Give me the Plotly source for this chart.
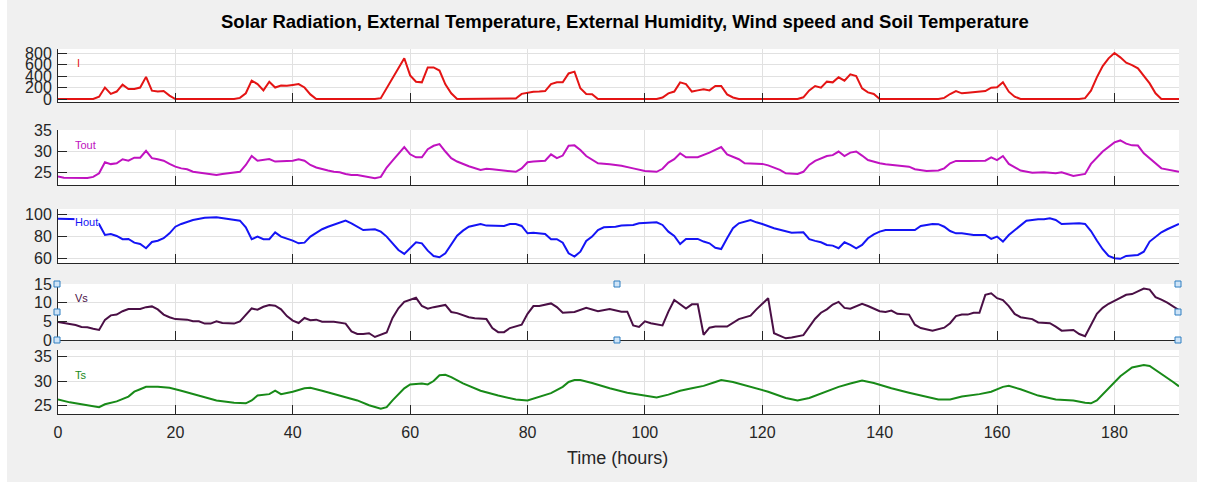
import plotly.graph_objects as go

# ---------------- data (hour, value) ----------------
I_hours = [0, 6, 7, 8, 9, 10, 11, 12, 13, 14, 15, 16, 17, 18, 19, 20,
           30, 31, 32, 33, 34, 35, 36, 37, 38, 39, 40, 41, 42, 43, 44,
           54, 55, 59, 60, 61, 62, 63, 64, 65, 66, 67, 68,
           78, 79, 80, 81, 82, 83, 84, 85, 86, 87, 88, 89, 90, 91, 92,
           102, 103, 104, 105, 106, 107, 108, 109, 110, 111, 112, 113, 114, 115, 116,
           126, 127, 128, 129, 130, 131, 132, 133, 134, 135, 136, 137, 138, 139, 140,
           150, 151, 152, 153, 154, 155, 156, 157, 158, 159, 160, 161, 162, 163, 164,
           174, 175, 176, 177, 178, 179, 180, 181, 182, 183, 184, 185, 186, 187, 188, 191]
I_vals = [0, 0, 40, 200, 90, 130, 250, 175, 175, 200, 385, 145, 130, 140, 60, 0,
          0, 20, 100, 320, 260, 150, 300, 200, 235, 230, 245, 260, 200, 80, 0,
          0, 15, 710, 410, 300, 290, 550, 550, 495, 255, 100, 0,
          10, 90, 115, 127, 130, 138, 260, 290, 290, 445, 476, 186, 87, 83, 0,
          0, 27, 99, 130, 290, 260, 130, 150, 168, 150, 226, 226, 80, 27, 0,
          0, 30, 150, 226, 197, 302, 290, 377, 319, 429, 400, 186, 116, 87, 0,
          0, 20, 87, 138, 99, 110, 116, 122, 138, 197, 203, 290, 127, 41, 0,
          0, 15, 145, 377, 574, 707, 800, 725, 632, 591, 533, 400, 272, 99, 0, 0]

Tout_hours = [0, 1, 5, 6, 7, 8, 9, 10, 11, 12, 13, 14, 15, 16, 17, 18, 19, 20, 21, 22, 23, 24, 25, 27,
              28, 29, 30, 31, 32, 33, 34, 35, 36, 37, 38, 39, 40, 41, 42, 43, 44, 45, 46, 47, 48,
              49, 50, 51, 52, 53, 54, 55, 56, 57, 58, 59, 60, 61, 62, 63, 64, 65, 66, 67, 68, 69,
              70, 72, 73, 74, 76, 78, 79, 80, 81, 83, 84, 85, 86, 87, 88, 89, 90, 92, 94, 96, 98,
              100, 102, 103, 104, 105, 106, 107, 109, 111, 113, 114, 116, 117, 120, 121, 123, 124,
              126, 127, 128, 129, 131, 132, 133, 134, 135, 136, 137, 138, 140, 141, 143, 145, 146,
              148, 150, 151, 152, 153, 155, 157, 158, 159, 160, 161, 162, 164, 166, 168, 170, 171,
              173, 175, 176, 178, 180, 181, 182, 183, 184, 185, 187, 188, 191]
Tout_vals = [24.1, 23.8, 23.75, 24.0, 24.85, 27.45, 27.0, 27.2, 28.15, 27.8, 28.5, 28.5, 30.1, 28.4,
             28.15, 27.8, 27.05, 26.4, 26.0, 25.8, 25.2, 25.0, 24.7, 24.45, 24.7, 24.85, 24.9, 25.2,
             26.8, 28.9, 27.8, 27.95, 28.2, 27.6, 27.6, 27.75, 27.8, 28.15, 27.8, 26.8, 26.2, 25.8,
             25.5, 25.2, 25.1, 24.7, 24.45, 24.45, 24.2, 23.9, 23.7, 24.0, 26.2, 27.8, 29.4, 31.0,
             29.3, 28.6, 28.6, 30.5, 31.3, 31.7, 29.95, 28.4, 27.6, 26.97, 26.5, 25.65, 25.9, 25.8,
             25.5, 25.2, 26.0, 27.45, 27.6, 27.8, 29.3, 28.4, 29.0, 31.3, 31.4, 30.3, 28.9, 27.2,
             26.97, 26.6, 26.0, 25.4, 25.2, 25.9, 27.35, 28.15, 29.55, 28.6, 28.6, 29.7, 31.0, 29.3,
             28.15, 27.2, 27.05, 26.7, 25.65, 24.85, 24.7, 25.2, 26.8, 27.75, 28.9, 29.1, 29.95,
             28.9, 29.7, 29.95, 29.0, 27.95, 27.2, 26.97, 26.7, 26.4, 25.8, 25.4, 25.5, 26.0, 27.2,
             27.75, 27.75, 27.8, 27.8, 28.6, 27.95, 28.9, 27.05, 25.5, 25.0, 25.1, 24.85, 25.1,
             24.2, 24.7, 27.05, 29.95, 32.1, 32.55, 31.8, 31.4, 31.35, 29.55, 27.2, 26.0, 25.2]

Hout_hours = [0, 2, 4, 6, 7, 8, 9, 10, 11, 12, 13, 14, 15, 16, 17, 18, 19, 20, 21, 23, 25, 27, 29,
              31, 32, 33, 34, 35, 36, 37, 38, 39, 40, 41, 42, 43, 44, 45, 46, 47, 49, 50, 51, 52,
              54, 55, 56, 57, 58, 59, 60, 61, 62, 63, 64, 65, 66, 67, 68, 69, 70, 72, 73, 76, 77,
              78, 79, 80, 81, 83, 84, 85, 86, 87, 88, 89, 90, 91, 92, 93, 95, 96, 98, 99, 102, 103,
              104, 105, 106, 107, 109, 110, 111, 112, 113, 114, 115, 116, 118, 119, 120, 122, 125,
              127, 128, 129, 130, 131, 132, 133, 134, 135, 136, 137, 138, 139, 140, 141, 146, 147,
              149, 150, 151, 152, 153, 154, 156, 158, 159, 160, 161, 162, 164, 165, 167, 168, 169,
              170, 171, 173, 174, 175, 176, 177, 178, 179, 180, 181, 182, 184, 185, 186, 188, 189, 191]
Hout_vals = [96.0, 96.0, 95.5, 93.0, 91.0, 81.2, 82.1, 80.3, 77.3, 77.6, 74.2, 73.0, 69.1, 74.8,
             76.0, 78.2, 82.7, 88.7, 91.2, 94.8, 96.9, 97.2, 95.4, 94.2, 88.2, 77.3, 79.7, 77.3,
             77.3, 83.6, 79.7, 78.2, 76.1, 73.6, 74.2, 79.7, 83.3, 86.4, 88.7, 90.3, 94.2, 91.8,
             88.7, 85.7, 86.4, 84.2, 79.7, 73.6, 67.5, 64.0, 69.6, 74.5, 73.6, 66.9, 62.1, 60.9,
             64.5, 72.1, 80.5, 85.1, 88.7, 91.2, 89.7, 89.4, 91.2, 91.2, 89.4, 82.7, 83.3, 82.1,
             77.3, 77.3, 74.2, 64.5, 61.5, 66.0, 75.7, 79.7, 85.7, 88.2, 88.7, 89.7, 90.3, 91.8,
             92.7, 90.3, 84.2, 80.3, 73.0, 77.6, 77.6, 75.2, 73.6, 69.6, 68.4, 78.2, 87.3, 91.8,
             94.8, 92.7, 91.2, 87.3, 83.3, 83.6, 77.3, 75.8, 74.5, 72.1, 71.5, 69.1, 74.5, 72.1,
             69.1, 72.1, 78.2, 81.8, 84.2, 85.7, 85.7, 89.4, 91.2, 91.0, 88.7, 84.8, 82.7, 82.7,
             81.2, 81.2, 77.6, 79.7, 75.2, 81.2, 90.3, 94.2, 95.4, 95.4, 96.3, 94.8, 91.2, 91.8,
             91.8, 91.2, 84.8, 76.1, 68.2, 62.1, 60.0, 59.5, 62.1, 63.0, 66.0, 75.2, 83.6, 86.4, 91.2]

Vs_hours = [0, 1, 2, 3, 4, 5, 6, 7, 8, 9, 10, 11, 12, 14, 15, 16, 17, 18, 19, 20, 22, 23, 24, 25,
            26, 27, 28, 30, 31, 32, 33, 34, 35, 36, 37, 38, 39, 40, 41, 42, 43, 44, 45, 47, 48,
            49, 50, 51, 52, 53, 54, 55, 56, 57, 58, 59, 61, 62, 63, 64, 66, 67, 68, 70, 71, 73,
            74, 75, 76, 77, 79, 80, 81, 82, 84, 85, 86, 88, 90, 92, 94, 96, 97, 98, 99, 100, 101,
            103, 104, 105, 107, 108, 109, 110, 111, 112, 114, 116, 118, 119, 121, 122, 124, 125,
            127, 129, 130, 131, 132, 133, 134, 135, 137, 138, 140, 141, 142, 143, 145, 146, 147,
            149, 151, 152, 153, 154, 155, 156, 157, 158, 159, 160, 161, 162, 163, 164, 166, 167,
            169, 170, 171, 173, 174, 175, 176, 177, 178, 179, 180, 181, 182, 183, 184, 185, 186,
            187, 188, 189, 191]
Vs_vals = [4.8, 4.6, 4.4, 4.0, 3.5, 3.4, 3.0, 2.7, 5.4, 6.6, 6.8, 7.7, 8.3, 8.3, 8.8, 9.0, 8.2,
           6.8, 6.1, 5.6, 5.45, 5.0, 5.0, 4.4, 4.4, 5.0, 4.55, 4.4, 5.0, 6.8, 8.45, 8.1, 8.9,
           9.35, 9.2, 8.2, 6.4, 5.2, 4.55, 5.9, 5.3, 5.45, 4.9, 4.9, 4.7, 4.4, 2.3, 1.6, 1.6,
           1.8, 0.8, 1.5, 2.0, 5.9, 8.5, 10.2, 11.3, 9.1, 8.4, 8.8, 9.4, 7.5, 7.2, 6.1, 5.8, 5.6,
           3.2, 2.1, 2.1, 3.2, 4.1, 7.0, 9.1, 9.1, 9.8, 8.8, 7.3, 7.5, 8.6, 7.7, 8.3, 7.6, 7.6,
           3.9, 3.5, 5.0, 4.5, 3.9, 7.6, 10.7, 8.45, 9.55, 9.55, 1.4, 3.3, 3.6, 3.6, 5.6, 6.5,
           8.2, 11.2, 1.8, 0.45, 0.7, 1.3, 5.7, 7.3, 8.2, 9.5, 10.2, 8.6, 8.4, 9.7, 9.1, 7.7,
           7.5, 7.9, 7.0, 6.8, 4.1, 3.2, 2.5, 3.3, 4.5, 6.4, 6.8, 6.8, 7.3, 7.3, 12.1, 12.5,
           11.2, 10.7, 9.1, 7.0, 6.1, 5.6, 4.7, 4.5, 3.6, 2.5, 2.7, 1.6, 1.0, 4.1, 7.0, 8.6,
           9.7, 10.5, 11.2, 12.1, 12.3, 13.0, 13.8, 13.5, 11.5, 10.8, 10.0, 8.0]

Ts_hours = [0, 2, 4, 7, 8, 10, 12, 13, 14, 15, 17, 19, 21, 24, 27, 30, 32, 33, 34, 36, 37, 38,
            40, 42, 43, 45, 48, 51, 53, 55, 56, 57, 59, 60, 62, 63, 64, 65, 66, 67, 69, 72, 75,
            78, 80, 82, 84, 86, 87, 88, 89, 91, 94, 97, 100, 102, 104, 106, 108, 110, 112, 113,
            115, 118, 121, 124, 126, 128, 131, 133, 135, 137, 139, 142, 145, 148, 150, 152, 154,
            157, 159, 161, 162, 164, 167, 170, 173, 175, 176, 177, 179, 181, 183, 185, 186, 188,
            190, 191]
Ts_vals = [26.2, 25.6, 25.2, 24.6, 25.2, 25.8, 26.8, 27.8, 28.3, 28.8, 28.8, 28.6, 28.0, 27.0,
           26.0, 25.5, 25.4, 26.0, 27.0, 27.3, 28.0, 27.3, 27.8, 28.5, 28.6, 28.0, 27.0, 26.0,
           25.0, 24.3, 24.6, 26.0, 28.5, 29.3, 29.5, 29.3, 30.0, 31.2, 31.3, 30.8, 29.5, 28.0,
           27.0, 26.2, 26.0, 26.8, 27.5, 28.8, 29.8, 30.2, 30.2, 29.6, 28.5, 27.6, 27.0, 26.6,
           27.2, 28.0, 28.5, 29.0, 29.8, 30.2, 29.8, 28.8, 27.8, 26.5, 26.0, 26.5, 27.8, 28.8,
           29.5, 30.1, 29.6, 28.5, 27.6, 26.8, 26.2, 26.2, 26.8, 27.3, 27.8, 28.8, 29.0, 28.3,
           27.0, 26.2, 26.0, 25.5, 25.4, 26.0, 28.5, 31.0, 32.8, 33.3, 33.1, 31.5, 29.8, 28.9]

series_names = ["I", "Tout", "Hout", "Vs", "Ts"]
x_ticks = [0, 20, 40, 60, 80, 100, 120, 140, 160, 180]
y_ticks = [[0, 200, 400, 600, 800], [25, 30, 35], [60, 80, 100], [0, 5, 10, 15], [25, 30, 35]]

# ---------------- styling ----------------
W, H = 1205, 488
colors = ["#e41414", "#c012c0", "#1414f5", "#4a0f45", "#188a18"]
y_ranges = [[-52, 870], [22.1, 35], [55.7, 104.8], [0, 15], [23.2, 36.4]]
panel_px = [(49, 102), (130, 185), (209, 263), (284, 340), (350, 414)]  # top, bottom
x_px = (58, 1179)
AX = "#262626"
GRID = "#e1e1e1"
FONT = "Liberation Sans, Arial, sans-serif"

def px_x(p):
    return p / W

def px_y(p):
    return 1 - p / H

data = [(I_hours, I_vals), (Tout_hours, Tout_vals), (Hout_hours, Hout_vals),
        (Vs_hours, Vs_vals), (Ts_hours, Ts_vals)]

fig = go.Figure()
layout = dict(
    width=W, height=H, autosize=False,
    # fixed zero margins: all placement is done through axis domains
    margin=dict(l=0, r=0, t=0, b=0, pad=0, autoexpand=False),
    paper_bgcolor="#f0f0f0", plot_bgcolor="white",
    showlegend=False,
    font=dict(family=FONT, color=AX, size=16),
)

for i, ((hx, hv), name, col) in enumerate(zip(data, series_names, colors)):
    k = i + 1
    xa = "x" if k == 1 else f"x{k}"
    ya = "y" if k == 1 else f"y{k}"
    fig.add_trace(go.Scatter(x=hx, y=hv, mode="lines", name=name,
                             line=dict(color=col, width=2),
                             xaxis=xa, yaxis=ya, hoverinfo="skip"))
    top, bot = panel_px[i]
    layout[f"xaxis{'' if k == 1 else k}"] = dict(
        domain=[px_x(x_px[0]), px_x(x_px[1])], anchor=ya, range=[0, 191],
        tickvals=x_ticks, ticks="inside", ticklen=9, tickcolor=AX, tickwidth=1,
        showline=True, linecolor=AX, linewidth=1, mirror=False,
        showgrid=True, gridcolor=GRID, gridwidth=1, zeroline=False, automargin=False,
        showticklabels=(k == 5), tickfont=dict(size=16, color=AX), ticklabelstandoff=4,
        fixedrange=True,
    )
    layout[f"yaxis{'' if k == 1 else k}"] = dict(
        domain=[px_y(bot), px_y(top)], anchor=xa, range=y_ranges[i],
        tickvals=y_ticks[i], ticks="inside", ticklen=9, tickcolor=AX, tickwidth=1,
        showline=True, linecolor=AX, linewidth=1, mirror=False,
        showgrid=True, gridcolor=GRID, gridwidth=1, zeroline=False, automargin=False,
        tickfont=dict(size=16, color=AX), ticklabelstandoff=2, fixedrange=True,
    )

label_pos = [(76, 63), (74, 145), (74, 222), (74, 298), (74, 375)]
annotations = []
for i, (name, col) in enumerate(zip(series_names, colors)):
    lx, ly = label_pos[i]
    annotations.append(dict(
        text=name, x=px_x(lx), y=px_y(ly), xref="paper", yref="paper",
        xanchor="left", yanchor="middle", showarrow=False,
        font=dict(size=11, color=col, family=FONT),
        bgcolor="white" if name == "Hout" else None, borderpad=0,
    ))

annotations.append(dict(
    text="<b>Solar Radiation, External Temperature, External Humidity, Wind speed and Soil Temperature</b>",
    x=px_x(625), y=px_y(22), xref="paper", yref="paper", xanchor="center", yanchor="middle",
    showarrow=False, font=dict(size=18.5, color="black", family=FONT)))
annotations.append(dict(
    text="Time (hours)", x=px_x(617), y=px_y(458), xref="paper", yref="paper",
    xanchor="center", yanchor="middle", showarrow=False,
    font=dict(size=18, color=AX, family=FONT)))
layout["annotations"] = annotations

# white margins around the grey figure area, plus selection handles on the Vs axes
shapes = [
    dict(type="rect", xref="paper", yref="paper", x0=0, x1=px_x(7), y0=0, y1=1,
         fillcolor="white", line=dict(width=0), layer="below"),
    dict(type="rect", xref="paper", yref="paper", x0=px_x(1197), x1=1, y0=0, y1=1,
         fillcolor="white", line=dict(width=0), layer="below"),
    dict(type="rect", xref="paper", yref="paper", x0=0, x1=1, y0=0, y1=px_y(482),
         fillcolor="white", line=dict(width=0), layer="below"),
]
vs_top, vs_bot = panel_px[3]
handles = [(57, vs_top), (57, (vs_top + vs_bot) / 2), (57, vs_bot),
           (617, vs_top), (617, vs_bot),
           (1178, vs_top), (1178, (vs_top + vs_bot) / 2), (1178, vs_bot)]
for (hxp, hyp) in handles:
    shapes.append(dict(type="rect", xref="paper", yref="paper",
                       x0=px_x(hxp - 3), x1=px_x(hxp + 3), y0=px_y(hyp + 3), y1=px_y(hyp - 3),
                       fillcolor="#cfe4f7", line=dict(color="#2f7fc1", width=1), layer="above"))
layout["shapes"] = shapes

fig.update_layout(**layout)
fig.write_html("out.html")
